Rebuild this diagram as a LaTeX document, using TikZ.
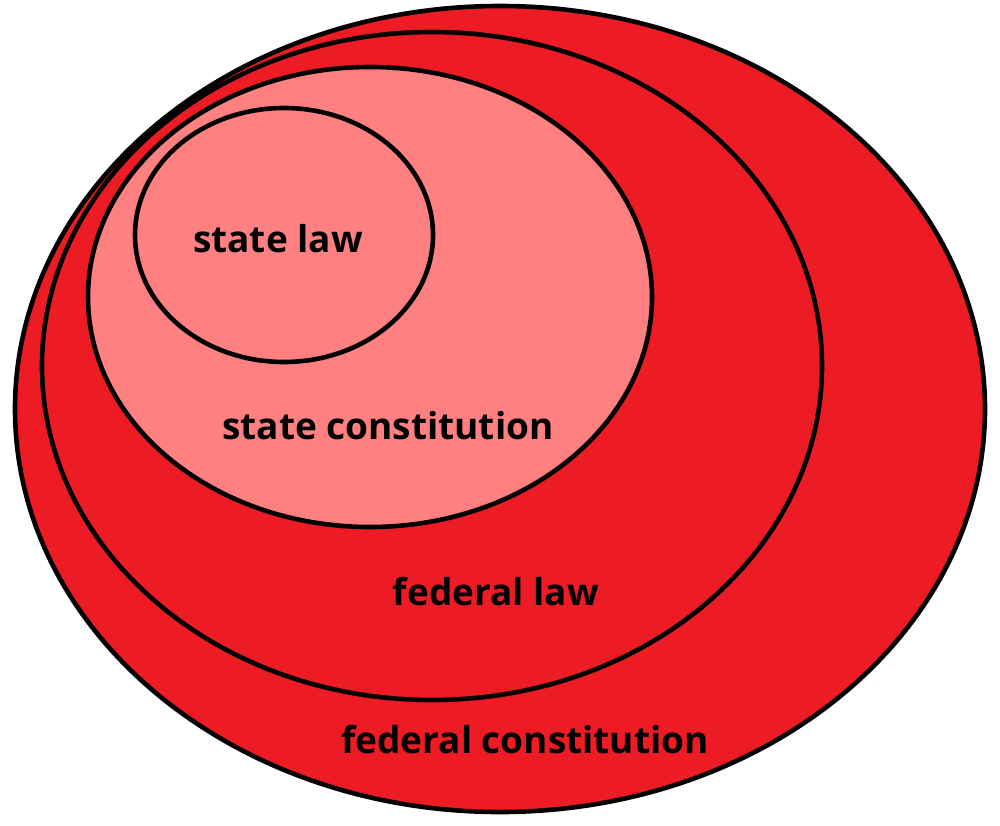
\documentclass[tikz,border=0pt]{standalone}
\usepackage{fontspec}
\setmainfont{Open Sans}
\definecolor{fedred}{HTML}{ED1C24}
\definecolor{statepink}{HTML}{FF8080}
\begin{document}
\begin{tikzpicture}[x=1pt,y=-1pt,
  ring/.style={draw=black,line width=4.6pt},
  lbl/.style={anchor=base,inner sep=0pt,font=\bfseries\fontsize{37}{40}\selectfont,text=black}]
\useasboundingbox (0,0) rectangle (1000,825);
\fill[white] (0,0) rectangle (1000,825);
\draw[ring,fill=fedred] (500,409) ellipse [x radius=485pt, y radius=403pt];
\draw[ring,fill=fedred] (432,366) ellipse [x radius=390pt, y radius=334pt];
\draw[ring,fill=statepink] (370,297) ellipse [x radius=282pt, y radius=230pt];
\draw[ring,fill=statepink] (284,235) ellipse [x radius=149pt, y radius=127pt];
\node[lbl] (sl) at (278,252) {state law};
\node[lbl] (sc) at (388,439) {state constitution};
\node[lbl] (fl) at (496,605) {federal law};
\node[lbl] (fc) at (525,753) {federal constitution};
\end{tikzpicture}
\end{document}
